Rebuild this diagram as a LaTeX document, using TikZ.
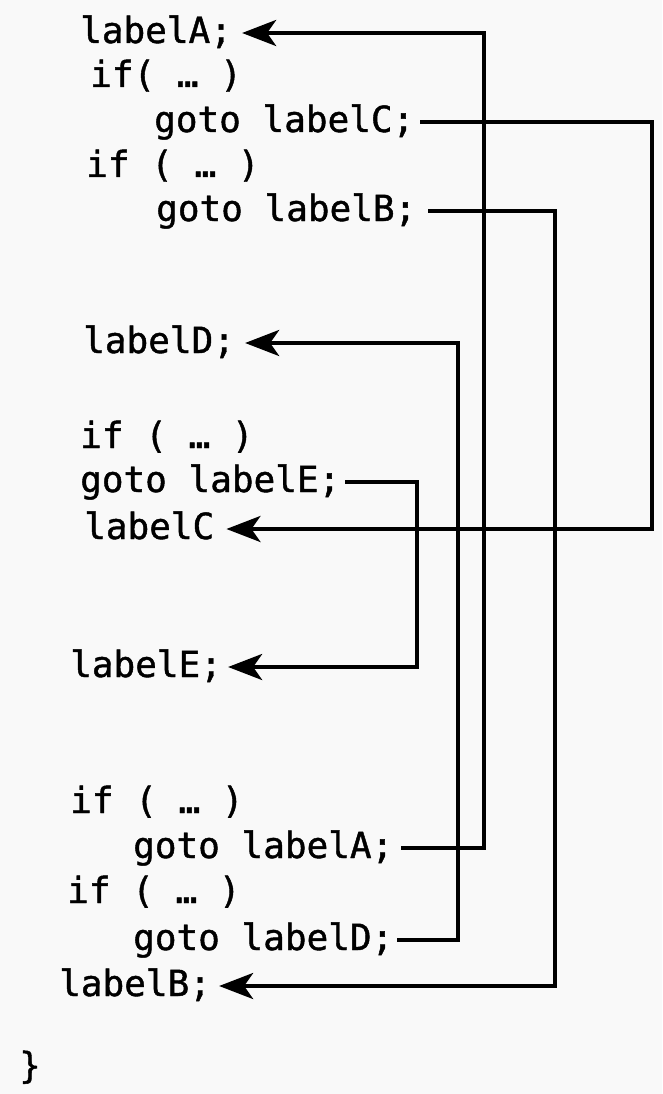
\documentclass[tikz,border=0pt]{standalone}
\usepackage{fontspec}
\newfontfamily\codefont[FakeBold=1.2]{DejaVu Sans Mono}
\usetikzlibrary{arrows.meta}
\definecolor{bgcol}{RGB}{249,249,249}
\begin{document}
\begin{tikzpicture}[x=1pt,y=-1pt,
  code/.style={font=\codefont\fontsize{36}{40}\selectfont, anchor=west, inner sep=0pt, text height=20pt, text depth=0pt},
  conn/.style={line width=4pt, -{Stealth[length=34pt,width=26pt,inset=9pt]}},
  wire/.style={line width=4pt}]
\fill[bgcol] (0,0) rectangle (662,1094);
\useasboundingbox (0,0) rectangle (662,1094);
% code lines
\node[code] (lA) at (80,33) {labelA;};
\node[code] (i1) at (90,77) {if( … )};
\node[code] (gC) at (154,122) {goto labelC;};
\node[code] (i2) at (86,167) {if ( … )};
\node[code] (gB) at (156,211) {goto labelB;};
\node[code] (lD) at (83,343) {labelD;};
\node[code] (i3) at (80,438) {if ( … )};
\node[code] (gE) at (80,482) {goto labelE;};
\node[code] (lC) at (84,529) {labelC};
\node[code] (lE) at (70,667) {labelE;};
\node[code] (i4) at (70,803) {if ( … )};
\node[code] (gA) at (133,848) {goto labelA;};
\node[code] (i5) at (67,893) {if ( … )};
\node[code] (gD) at (133,940) {goto labelD;};
\node[code] (lB) at (59,986) {labelB;};
\node[code, anchor=base west] (br) at (19,1078) {\}};
% vertical rails
\coordinate (xA) at (484,0);
\coordinate (xB) at (555,0);
\coordinate (xC) at (652,0);
\coordinate (xD) at (458,0);
\coordinate (xE) at (417,0);
% connectors
\draw[conn] ([xshift=8pt]gA.east) -| (xA |- lA.east) -- ([xshift=10pt]lA.east);
\draw[conn] ([xshift=6pt]gC.east) -| (xC |- lC.east) -- ([xshift=12pt]lC.east);
\draw[conn] ([xshift=12pt]gB.east) -| (xB |- lB.east) -- ([xshift=8pt]lB.east);
\draw[conn] ([xshift=4pt]gD.east) -| (xD |- lD.east) -- ([xshift=10pt]lD.east);
\draw[conn] ([xshift=5pt]gE.east) -| (xE |- lE.east) -- ([xshift=6pt]lE.east);
\end{tikzpicture}
\end{document}
